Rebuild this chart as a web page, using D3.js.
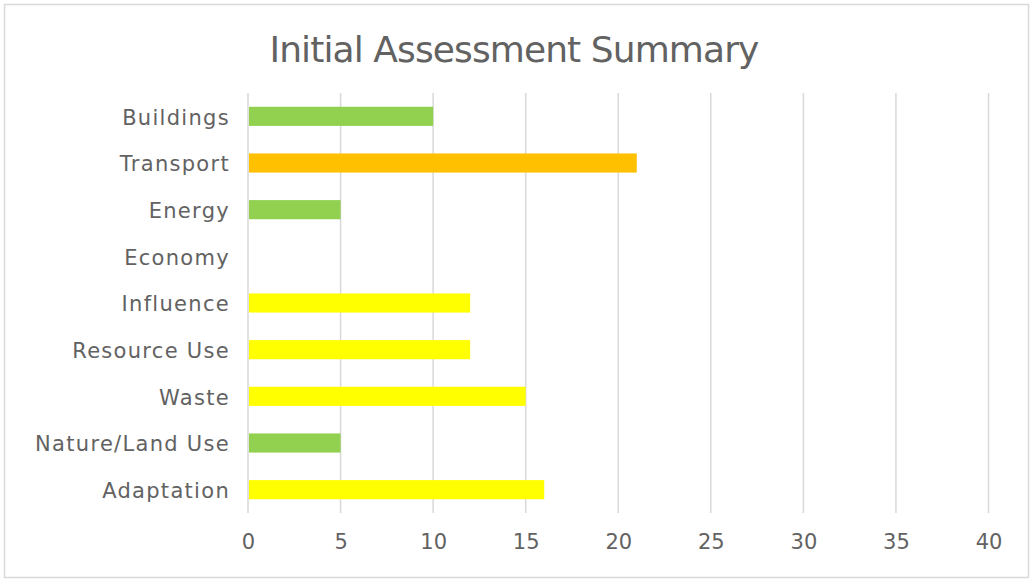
<!DOCTYPE html>
<html>
<head>
<meta charset="utf-8">
<script src="https://cdn.jsdelivr.net/npm/d3@7"></script>
<style>
  body { margin: 0; background: #fff; }
  svg text { font-family: "Century Gothic", "DejaVu Sans", sans-serif; fill: #626262; }
</style>
</head>
<body>
<div id="chart"></div>
<script>
// Data
const categories = ["Buildings", "Transport", "Energy", "Economy", "Influence",
                    "Resource Use", "Waste", "Nature/Land Use", "Adaptation"];
const values = [10, 21, 5, 0, 12, 12, 15, 5, 16];
const barColors = ["#92D050", "#FFC000", "#92D050", "#92D050", "#FFFF00",
                   "#FFFF00", "#FFFF00", "#92D050", "#FFFF00"];
const xTicks = [0, 5, 10, 15, 20, 25, 30, 35, 40];

const W = 1034, H = 582;
const margin = { top: 93, right: 45, bottom: 69, left: 248 },
      width = W - margin.left - margin.right,
      height = H - margin.top - margin.bottom;

const svg = d3.select("#chart").append("svg")
    .attr("width", W)
    .attr("height", H);

// outer border
svg.append("rect")
    .attr("x", 4.5).attr("y", 4.5)
    .attr("width", 1024).attr("height", 573)
    .attr("fill", "#fff")
    .attr("stroke", "#d9d9d9")
    .attr("stroke-width", 1.5);

svg.append("text")
    .attr("x", 514)
    .attr("y", 62)
    .attr("text-anchor", "middle")
    .style("font-size", "36px")
    .style("letter-spacing", "-0.9px")
    .text("Initial Assessment Summary");

const g = svg.append("g")
    .attr("transform", `translate(${margin.left}, ${margin.top})`);

const x = d3.scaleLinear()
    .domain([0, 40])
    .range([0, width - 0.5]);

const y = d3.scaleBand()
    .domain(categories)
    .range([0, height])
    .paddingInner(0.59)
    .paddingOuter(0.295);

// gridlines
g.selectAll(".grid")
    .data(xTicks)
    .enter().append("line")
    .attr("x1", d => x(d))
    .attr("x2", d => x(d))
    .attr("y1", 0)
    .attr("y2", height)
    .attr("stroke", "#d9d9d9")
    .attr("stroke-width", 1.5);

// bars
g.selectAll(".bar")
    .data(categories)
    .enter().append("rect")
    .attr("x", x(0) + 1)
    .attr("y", d => y(d))
    .attr("width", (d, i) => Math.max(0, x(values[i]) - x(0) - 1))
    .attr("height", y.bandwidth())
    .attr("fill", (d, i) => barColors[i]);

// x axis
const xAxis = g.append("g")
    .attr("transform", `translate(0, ${height})`)
    .call(d3.axisBottom(x).tickValues(xTicks).tickSize(0).tickPadding(21));
xAxis.select(".domain").remove();
xAxis.selectAll("text")
    .style("font-size", "21px")
    .attr("fill", "#626262");

// y axis
const yAxis = g.append("g")
    .call(d3.axisLeft(y).tickSize(0).tickPadding(18));
yAxis.select(".domain").remove();
yAxis.selectAll("text")
    .style("font-size", "21px")
    .style("letter-spacing", "1.3px")
    .attr("dy", "0.4em")
    .attr("fill", "#626262");
</script>
</body>
</html>
